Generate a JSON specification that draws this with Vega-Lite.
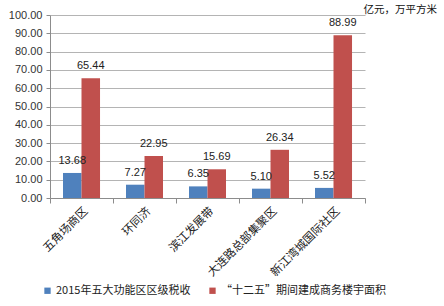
{
  "$schema": "https://vega.github.io/schema/vega-lite/v6.json",
  "autosize": {"type": "none"},
  "width": 315,
  "height": 183,
  "padding": {"left": 50, "top": 15, "right": 79, "bottom": 108},
  "background": "white",
  "config": {"view": {"stroke": null}, "font": "Liberation Sans"},
  "data": {"values": [
    {"area": "五角场商区", "series": "2015年五大功能区区级税收", "value": 13.68},
    {"area": "五角场商区", "series": "“十二五”期间建成商务楼宇面积", "value": 65.44},
    {"area": "环同济", "series": "2015年五大功能区区级税收", "value": 7.27},
    {"area": "环同济", "series": "“十二五”期间建成商务楼宇面积", "value": 22.95},
    {"area": "滨江发展带", "series": "2015年五大功能区区级税收", "value": 6.35},
    {"area": "滨江发展带", "series": "“十二五”期间建成商务楼宇面积", "value": 15.69},
    {"area": "大连路总部集聚区", "series": "2015年五大功能区区级税收", "value": 5.10},
    {"area": "大连路总部集聚区", "series": "“十二五”期间建成商务楼宇面积", "value": 26.34},
    {"area": "新江湾城国际社区", "series": "2015年五大功能区区级税收", "value": 5.52},
    {"area": "新江湾城国际社区", "series": "“十二五”期间建成商务楼宇面积", "value": 88.99}
  ]},
  "encoding": {
    "x": {"field": "area", "type": "nominal", "sort": null,
      "scale": {"paddingInner": 0, "paddingOuter": 0},
      "axis": {"title": null, "labelAngle": -45, "labelAlign": "right", "labelBaseline": "top",
        "labelFont": "Noto Sans CJK SC", "labelFontSize": 11.5, "labelColor": "#222222",
        "tickBand": "extent", "domainColor": "#8c8c8c", "tickColor": "#8c8c8c", "tickSize": 5,
        "labelPadding": 2, "grid": false}},
    "xOffset": {"field": "series", "type": "nominal", "sort": null,
      "scale": {"paddingInner": 0, "paddingOuter": 0.7}},
    "y": {"field": "value", "type": "quantitative",
      "scale": {"domain": [0, 100], "nice": false},
      "axis": {"values": [0, 10, 20, 30, 40, 50, 60, 70, 80, 90, 100], "format": ".2f",
        "title": "亿元，万平方米", "titleAngle": 0, "titleAlign": "left", "titleBaseline": "middle",
        "titleX": 313, "titleY": -6, "titleFont": "Noto Sans CJK SC", "titleFontSize": 10.5,
        "titleFontWeight": "normal", "titleColor": "#111111",
        "labelFontSize": 11, "labelColor": "#333333", "labelPadding": 4,
        "domainColor": "#8c8c8c", "tickColor": "#8c8c8c", "tickSize": 4,
        "gridColor": "#b4b4b4", "gridWidth": 1}}
  },
  "layer": [
    {"mark": {"type": "bar"},
     "encoding": {"color": {"field": "series", "type": "nominal", "sort": null,
       "scale": {"range": ["#4F81BD", "#C0504D"]},
       "legend": {"title": null, "orient": "none", "legendX": -8, "legendY": 270, "direction": "horizontal",
         "symbolType": "square", "symbolSize": 40, "labelFont": "Noto Sans CJK SC", "labelFontSize": 11,
         "labelColor": "#222222", "columnPadding": 16, "labelOffset": 3, "labelLimit": 300}}}},
    {"mark": {"type": "text", "baseline": "bottom", "dy": -7, "fontSize": 11, "color": "#222222"},
     "encoding": {"text": {"field": "value", "type": "quantitative", "format": ".2f"}}}
  ]
}
